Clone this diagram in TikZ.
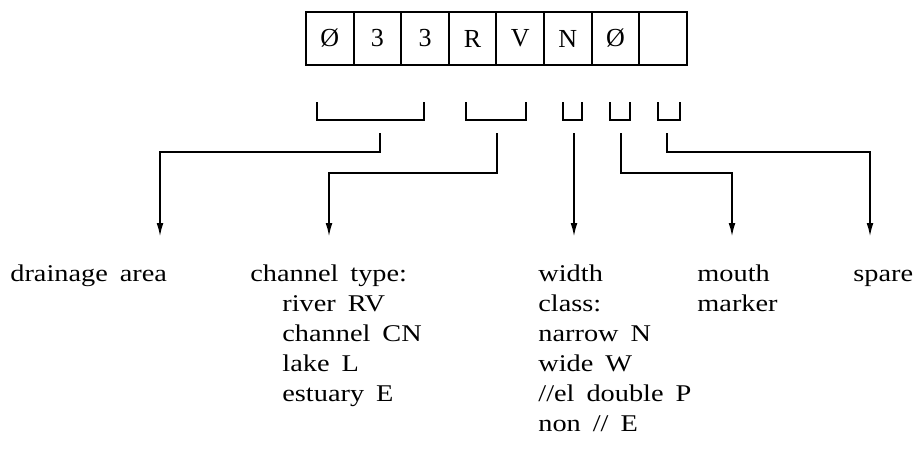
\documentclass[tikz,border=0pt]{standalone}
\usepackage{fontspec}
\setmainfont[FakeStretch=1.18]{Liberation Serif}
\newfontfamily\cellfont{Liberation Serif}
\newcommand\fieldfont{\fontsize{12}{15}\selectfont\spaceskip=.5em\relax}
\usepackage{tikz}
\usetikzlibrary{arrows.meta,positioning}

\begin{document}
\begin{tikzpicture}[x=0.5pt,y=-0.5pt,
  cell/.style={draw,line width=1pt,minimum width=23.8pt,minimum height=26.5pt,
    inner sep=0pt,outer sep=0pt,font=\cellfont\fontsize{13}{13}\selectfont},
  bracket/.style={line width=1pt},
  to/.style={-{Latex[length=7pt,width=3.4pt]},line width=1pt},
  field/.style={anchor=north west,align=left,inner sep=0pt,font=\fieldfont}]

  \useasboundingbox (0,0) rectangle (916,451);

  % the record
  \node[cell] (c1) at (329.8,38.5) {Ø};
  \node[cell,right=0pt of c1] (c2) {3};
  \node[cell,right=0pt of c2] (c3) {3};
  \node[cell,right=0pt of c3] (c4) {R};
  \node[cell,right=0pt of c4] (c5) {V};
  \node[cell,right=0pt of c5] (c6) {N};
  \node[cell,right=0pt of c6] (c7) {Ø};
  \node[cell,right=0pt of c7] (c8) {};

  % brackets
  \foreach \l/\r in {317/424,466/526,563/582,610/630,658/680}
    \draw[bracket] (\l,102) |- (\r,120) -- (\r,102);

  % descriptions
  \node[field] (area) at (10,260) {\strut drainage area};
  \node[field] (type) at (250,260) {\strut channel type:\\
    \hspace*{16pt}river RV\\
    \hspace*{16pt}channel CN\\
    \hspace*{16pt}lake L\\
    \hspace*{16pt}estuary E};
  \node[field] (width) at (538,260) {\strut width\\class:\\narrow N\\wide W\\//el double P\\non // E};
  \node[field] (mouth) at (697,260) {\strut mouth\\marker};
  \node[field] (spare) at (853,260) {\strut spare};

  \coordinate (s1) at (380,133);
  \coordinate (s2) at (497,133);
  \coordinate (s3) at (574,133);
  \coordinate (s4) at (621,133);
  \coordinate (s5) at (667,133);
  \coordinate (t1) at (160,237);
  \coordinate (t2) at (329,237);
  \coordinate (t3) at (574,237);
  \coordinate (t4) at (732,237);
  \coordinate (t5) at (870,237);

  \draw[to] (s1) -- ++(0,19) -| (t1);
  \draw[to] (s2) -- ++(0,40) -| (t2);
  \draw[to] (s3) -- (t3);
  \draw[to] (s4) -- ++(0,40) -| (t4);
  \draw[to] (s5) -- ++(0,19) -| (t5);
\end{tikzpicture}
\end{document}
